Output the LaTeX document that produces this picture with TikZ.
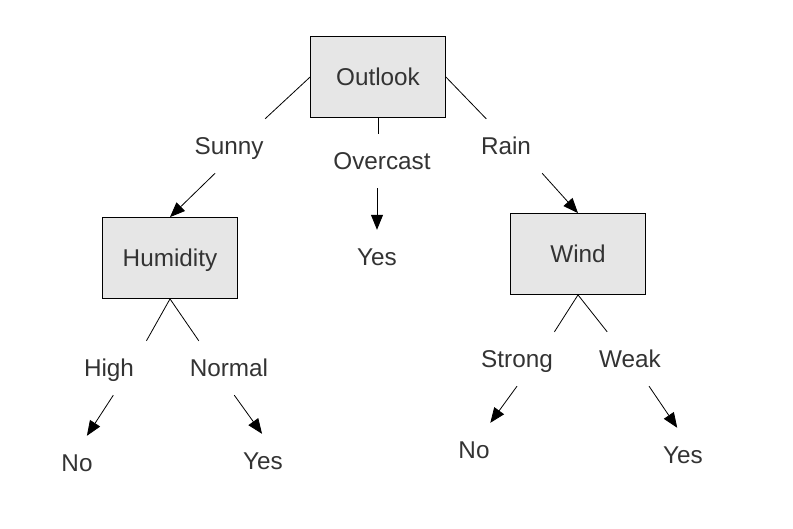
\documentclass[tikz,border=0pt]{standalone}
\usepackage{fontspec}
\setmainfont{Liberation Sans}
\usetikzlibrary{arrows.meta}
\definecolor{boxgray}{HTML}{E6E6E6}
\definecolor{txtgray}{HTML}{333333}
\newcommand{\treefont}{\fontsize{24.3}{29}\selectfont}

\tikzset{
  attr/.style={draw=black, line width=0.8pt, fill=boxgray, minimum width=135pt, minimum height=81pt, inner sep=0pt, text height=20pt, text depth=2.6pt, text=txtgray, font=\treefont},
  lbl/.style={minimum width=76pt, minimum height=54pt, inner sep=0pt, text height=20pt, text depth=2.6pt, text=txtgray, font=\treefont},
  branch/.style={black, line width=0.8pt},
  pick/.style={black, line width=0.8pt, -{Triangle[length=15pt,width=12pt]}}
}

\begin{document}
\begin{tikzpicture}[x=1pt, y=-1pt]
        \useasboundingbox (0,0) rectangle (793,528);

        %% root
        \node[attr] (outlook) at (378,77) {Outlook};
        \node[lbl] (sunny) at (229,146) {Sunny};
        \node[lbl] (overcast) at (382,161) {Overcast};
        \node[lbl] (rain) at (506,146) {Rain};

        \draw[branch] (outlook.west) -- (sunny.37);
        \draw[branch] (outlook.south) -- (outlook.south |- overcast.north);
        \draw[branch] (outlook.east) -- (rain.126);

        %% Sunny branch
        \node[attr] (humidity) at (170,258) {Humidity};
        \draw[pick] (sunny.243) -- (humidity.north);
        \node[lbl] (high) at (109,368) {High};
        \node[lbl] (normal) at (229,368) {Normal};
        \draw[branch] (humidity.south) -- (high.36);
        \draw[branch] (humidity.south) -- (normal.138);
        \node[lbl] (noHigh) at (77,463) {No};
        \node[lbl] (yesNormal) at (263,461) {Yes};
        \draw[pick] (high.279) -- (noHigh.70);
        \draw[pick] (normal.281) -- (yesNormal.92);

        %% Overcast branch
        \node[lbl] (yesOver) at (377,257) {Yes};
        \draw[pick] (overcast.south -| yesOver.north) -- (yesOver.north);

        %% Rain branch
        \node[attr] (wind) at (578,254) {Wind};
        \draw[pick] (rain.323) -- (wind.north);
        \node[lbl] (strong) at (517,359) {Strong};
        \node[lbl] (weak) at (630,359) {Weak};
        \draw[branch] (wind.south) -- (strong.36);
        \draw[branch] (wind.south) -- (weak.130);
        \node[lbl] (noStrong) at (474,450) {No};
        \node[lbl] (yesWeak) at (683,455) {Yes};
        \draw[pick] (strong.south) -- (noStrong.59);
        \draw[pick] (weak.305) -- (yesWeak.102);

\end{tikzpicture}
\end{document}
